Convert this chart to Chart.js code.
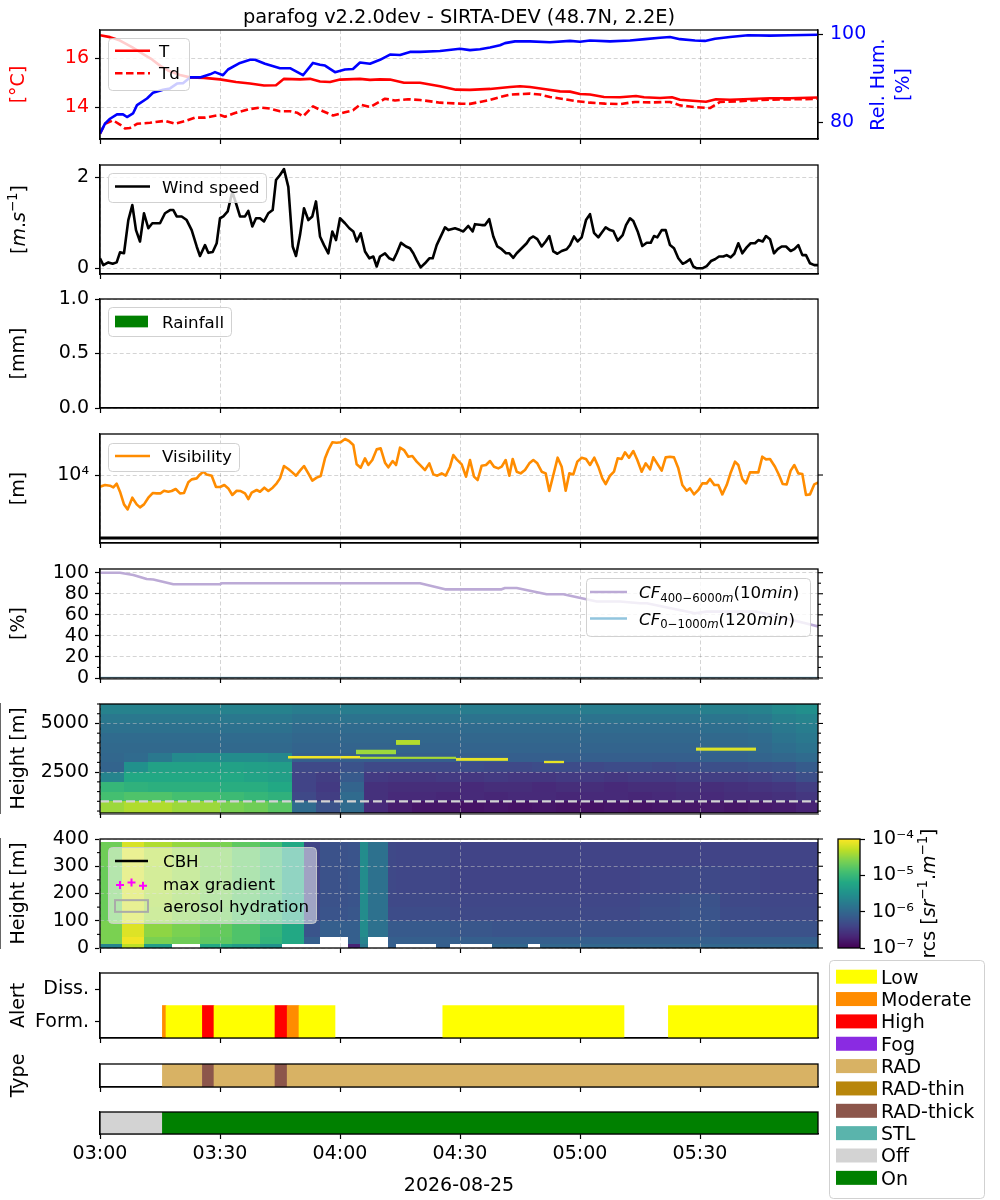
<!DOCTYPE html>
<html>
<head>
<meta charset="utf-8">
<title>parafog</title>
<script src="https://cdn.jsdelivr.net/npm/chart.js@4.4.1/dist/chart.umd.min.js"></script>
<style>
  html, body { margin: 0; padding: 0; background: #ffffff; }
  #fig { position: relative; width: 1000px; height: 1200px; overflow: hidden; background: #ffffff; }
  #fig canvas { position: absolute; left: 0; }
</style>
</head>
<body>
<div id="fig"></div>
<script>
// ======================= DATA =======================
const titleText = 'parafog v2.2.0dev - SIRTA-DEV (48.7N, 2.2E)';
const dateLabel = '2026-08-25';
const START_MIN = 180;            // 03:00 in minutes after midnight
const X_MAX = 179.5;              // minutes after 03:00
const xTickMinutes = [0, 30, 60, 90, 120, 150];

// temperature (°C), dew point (°C), relative humidity (%)
const tempTime = [0,2.5,5,8,11,13,15,17,20,22.5,26,30,34,37.5,41,44,46,50,52.5,55,57.5,60,65,67.5,70,72.5,76,80,85,89,92.5,97.5,100,102.5,105,107.5,111,115,117.5,120,122.5,126,130,134,136,140,143,145,149,151.5,154,157.5,162.5,167.5,172.5,179.5];
const tempT = [16.94,16.86,16.72,16.45,16.15,15.95,15.7,15.5,15.32,15.22,15.2,15.14,15.03,14.97,14.89,14.9,15.16,15.14,15.16,15.05,15.03,15.13,15.16,15.12,15.14,15.13,15.0,15.0,14.86,14.72,14.71,14.75,14.79,14.83,14.86,14.83,14.75,14.65,14.64,14.54,14.52,14.42,14.41,14.46,14.41,14.38,14.41,14.31,14.26,14.23,14.33,14.31,14.34,14.37,14.37,14.4];
const tdTime = [0,1.25,3.25,5,6.25,7.5,9.25,12.5,16.25,18.75,21.25,23.75,26.25,30,31.25,33.75,37.5,40,42.5,45,47.5,49.25,50.75,53.25,55.75,58.25,61.25,63.25,65,67.5,71.25,73.75,77,80,85,90,92.5,95,97.5,100,102.5,107.5,110,112.5,116.25,118.75,122.5,126.25,130,133.75,137.5,142.5,145,148.75,152.5,155,160,165,170,175,179.5];
const tdVal = [12.93,13.33,13.47,13.3,13.14,13.16,13.33,13.37,13.45,13.33,13.44,13.58,13.58,13.69,13.62,13.77,13.93,13.99,13.95,13.84,13.84,13.78,13.63,14.04,13.84,13.67,13.8,13.88,14.11,14.01,14.35,14.28,14.33,14.3,14.19,14.15,14.14,14.22,14.3,14.42,14.52,14.56,14.52,14.42,14.33,14.26,14.19,14.15,14.13,14.22,14.2,14.22,14.08,14.01,13.97,14.22,14.25,14.3,14.32,14.33,14.35];
const rhTime = [0,1.25,2.5,4.25,5.75,6.75,8.25,9.25,11.75,13.25,15.75,17.5,19.25,20.75,22.5,25,27.5,28.75,30.75,32,35,37.5,38.75,41.25,45,47.5,50.75,53.25,55,56.25,58.75,61.25,63.25,65,67.5,70,72.5,75,77.5,80,85,90,92.5,95,97.5,100,101.25,103.75,107.5,112.5,117.5,120,122.5,127.5,132.5,136.25,140,142.5,145,148.75,151.25,153.75,157.5,162,167.5,172.5,179.5];
const rhVal = [77.4,79.7,80.8,81.8,81.8,81.2,82,83.9,85.4,86.7,87.4,87.7,88.8,88.9,90.2,90.2,90.9,91.4,90.7,92,93.5,94.2,94.2,93.3,92.3,92.3,90.7,93.5,93.1,92.9,91.4,92,92.1,93.6,93.3,94.2,95.4,95.3,96,96,96.2,96.7,96.4,96.6,97,97.5,98,98.4,98.4,98.2,98.5,98.3,98.6,98.4,98.6,98.9,99.2,99.4,98.9,98.6,98.5,99,99.4,99.8,99.7,99.8,99.9];

// wind speed (m/s)
const windTime = [0,0.83,2.08,3.17,4.17,5,6,7.08,8.08,9,10,11,12.08,13.08,15,16.25,17.5,18.33,19.17,20.42,21.67,22.92,24.17,25,26.25,27.08,28.17,29.17,30,30.83,31.92,33.08,34,35,36.25,37.08,38.08,39,40,41,42.08,43.17,44,45,46,47.08,48.17,49,50,51,52.08,53.08,54,55,56,57.08,58.08,59,60,61.25,62.33,63.33,64.17,65.17,66.25,67.33,68.33,69.17,70,71.25,72.33,73.33,74.17,75.25,76.5,77.5,78.33,79.17,80.17,81.25,82.33,83.17,84.17,86.25,87.08,88.75,90,90.83,92.08,93.17,93.75,95.42,96.25,97.3,98.33,99.33,100.42,101.5,102.33,103.33,104.17,105.42,106.67,107.5,108.33,109.33,110.42,111.42,112.33,113.33,114.33,115.42,116.67,117.5,118.5,119.42,120.42,121.5,122.5,123.5,124.58,125.42,126.42,127.5,128.33,129.42,130.67,131.5,132.5,133.33,134.42,135.58,136.67,137.67,138.5,139.33,140.42,141.42,142.5,143.5,144.58,145.67,146.42,147.5,148.33,149.17,150.58,151.67,152.75,153.75,154.75,155.83,156.67,157.67,158.58,159.58,160.58,161.67,162.67,163.75,164.58,165.67,166.5,167.5,168.5,169.42,170.42,171.5,172.67,173.58,174.58,175.58,176.5,177.5,178.58,179.58];
const windVal = [0.22,0.07,0.13,0.1,0.13,0.35,0.33,1.06,1.39,0.84,0.59,1.21,0.88,0.99,0.99,1.21,1.28,1.28,1.14,1.14,1.06,0.84,0.48,0.27,0.51,0.34,0.36,0.55,1.1,1.14,1.25,1.68,1.43,1.14,1.14,1.26,0.92,1.1,1.1,1.03,1.21,1.28,1.94,2.05,2.18,1.79,0.48,0.27,0.73,1.32,1.06,1.14,1.47,0.7,0.51,0.33,0.81,0.62,1.1,0.99,0.88,0.81,0.59,0.77,0.37,0.22,0.26,0.04,0.26,0.33,0.22,0.18,0.33,0.56,0.48,0.44,0.33,0.18,0.02,0.11,0.22,0.22,0.51,0.9,0.84,0.88,0.84,0.81,0.93,0.81,0.97,0.95,0.95,1.08,0.7,0.48,0.42,0.33,0.33,0.23,0.33,0.44,0.55,0.66,0.7,0.64,0.48,0.59,0.71,0.37,0.32,0.38,0.42,0.51,0.7,0.59,0.68,1.06,1.19,0.78,0.68,0.78,0.9,0.84,0.82,0.61,0.73,0.95,1.1,1.04,0.81,0.49,0.56,0.56,0.71,0.68,0.84,0.84,0.51,0.44,0.22,0.1,0.13,0.2,0.04,0,0,0.05,0.16,0.2,0.26,0.26,0.29,0.24,0.32,0.55,0.33,0.46,0.55,0.55,0.62,0.59,0.71,0.64,0.33,0.42,0.48,0.48,0.38,0.42,0.51,0.29,0.29,0.11,0.07,0.07];

// rainfall (mm) : none recorded
const rainTime = [];
const rainVal = [];

// visibility, stored as log10(m)
const visTime = [0,1.25,2.5,3.33,4.17,5,6,6.92,8.08,9.17,10,11,12.08,13.17,14.17,15.17,16,17.08,17.92,18.92,20,21,22.08,22.92,24.17,25,25.83,26.67,27.92,29,30,31.08,32.08,33.08,34.17,35.17,36.25,37.08,37.92,39.17,40,41.08,42.08,43.17,44.17,45,46,47.08,48.08,49,50,51,52.08,53.08,54.17,55.17,56.25,57.08,58.08,59.17,60.17,61.25,62.25,63.33,64.17,65.17,66.25,67.08,68.08,69.17,70.17,71.25,72.08,73.17,74,75,76,77.08,78.08,79.17,80.17,81.25,82.33,83.33,84.33,85.42,86.42,87.5,88.33,89.17,90.42,91.5,92.5,93.5,94.42,95.42,96.5,97.5,98.5,99.58,100.42,101.42,102.33,103.17,104.17,105.17,106.25,107.33,108.33,109.33,110.42,111.42,112.33,113.33,114.42,115.42,116.42,117.33,118.33,119.33,120.42,121.5,122.5,123.58,124.58,125.58,126.42,127.5,128.5,129.42,130.42,131.25,132.25,133.33,134.33,135.42,136.42,137.5,138.33,139.42,140.42,141.42,142.5,143.5,144.58,145.58,146.67,147.5,148.5,149.58,150.58,151.67,152.5,153.58,154.58,155.58,156.67,157.67,158.75,159.58,160.58,161.5,162.5,163.5,164.58,165.58,166.5,167.5,168.75,169.75,170.67,171.67,172.67,173.58,174.58,175.58,176.5,177.5,178.58,179.58];
const visLog10 = [3.815,3.841,3.831,3.804,3.862,3.735,3.534,3.455,3.64,3.534,3.487,3.534,3.64,3.714,3.709,3.709,3.751,3.735,3.746,3.778,3.709,3.714,3.884,3.931,3.947,4.01,4.053,4.01,3.989,3.81,3.81,3.841,3.788,3.683,3.751,3.746,3.709,3.619,3.72,3.762,3.735,3.799,3.746,3.799,3.868,3.947,4.143,4.095,4.042,3.989,4.069,4.143,4.026,3.91,3.958,3.984,4.265,4.397,4.519,4.513,4.519,4.571,4.54,4.476,4.169,4.116,4.265,4.159,4.238,4.407,4.423,4.196,4.122,4.222,4.159,4.434,4.397,4.291,4.302,4.212,4.148,4.079,4.185,4.01,3.989,4.026,3.989,4.132,4.317,4.249,4.169,3.974,4.238,3.974,3.921,4.148,4.159,4.222,4.132,4.106,4.132,4.238,3.989,4.254,4.053,4.026,4.079,4.185,4.238,4.185,4.053,4.026,3.746,4.0,4.275,4.132,3.751,4.026,4.01,4.212,4.275,4.254,4.159,4.275,4.132,3.947,3.857,3.989,4.053,4.265,4.254,4.36,4.275,4.381,4.238,4.053,4.185,4.09,4.28,4.169,4.069,4.28,4.291,4.28,4.106,3.841,3.751,3.788,3.693,3.762,3.868,3.868,3.937,3.841,3.841,3.693,3.841,4.037,4.212,4.159,3.937,3.868,4.042,4.042,4.042,4.291,4.249,4.254,4.132,4.0,3.857,3.852,4.069,4.159,4.026,4.016,3.683,3.693,3.852,3.884];
const visThreshold = 1000;

// cloud fraction (%)
const cfTime = [0,5,8.33,11.67,13.33,18.33,30,30.5,80,86.25,100.4,101.25,104.17,111.67,115.83,124.17,130,135,136.67,148.75,151.67,164.17,170,179.58];
const cf400Val = [100,100,97.8,94,93.5,89,89,90,90,84.2,84.2,85.5,85.5,79.5,79.5,72.6,72.6,71,71,61.5,63,63,58,48.9];
const cf1000Time = [0, 179.58];
const cf1000Val = [0, 0];

// range-corrected signal, log10(rcs) — 400-6000 m
const rcs1TimeEdges = [0,6,12,18,24,30,36,42,48,54,60,66,72,78,84,90,96,102,108,114,120,126,132,138,144,150,156,162,168,174,180];
const rcs1HeightEdges = [400,1000,1500,2000,2500,3000,3500,4000,4500,5000,5500,6000];
const rcs1Log = [
  [-4.45,-4.36,-4.36,-4.45,-4.45,-4.6,-4.66,-4.78,-5.95,-6.25,-5.95,-6.64,-6.76,-6.82,-6.82,-6.85,-6.82,-6.85,-6.82,-6.85,-6.85,-6.82,-6.85,-6.82,-6.82,-6.79,-6.82,-6.79,-6.76,-6.7],
  [-4.9,-4.84,-4.84,-4.9,-4.9,-4.96,-5.02,-5.08,-6.34,-6.46,-5.95,-6.58,-6.64,-6.64,-6.67,-6.64,-6.67,-6.64,-6.64,-6.67,-6.64,-6.64,-6.67,-6.64,-6.61,-6.64,-6.61,-6.61,-6.58,-6.52],
  [-5.02,-5.08,-5.11,-5.11,-5.11,-5.14,-5.14,-5.2,-6.4,-6.49,-6.04,-6.58,-6.61,-6.61,-6.61,-6.64,-6.61,-6.61,-6.64,-6.61,-6.61,-6.64,-6.61,-6.61,-6.58,-6.61,-6.58,-6.55,-6.52,-6.46],
  [-5.65,-5.2,-5.2,-5.2,-5.2,-5.2,-5.26,-5.32,-6.4,-6.46,-6.16,-6.49,-6.52,-6.52,-6.49,-6.52,-6.49,-6.52,-6.52,-6.49,-6.49,-6.52,-6.49,-6.49,-6.46,-6.46,-6.46,-6.43,-6.37,-6.28],
  [-6.04,-5.5,-5.29,-5.29,-5.29,-5.29,-5.32,-5.35,-6.34,-6.34,-6.25,-6.34,-6.34,-6.34,-6.34,-6.31,-6.34,-6.34,-6.31,-6.31,-6.34,-6.31,-6.31,-6.34,-6.31,-6.28,-6.28,-6.25,-6.22,-6.13],
  [-6.01,-5.95,-5.8,-5.59,-5.56,-5.56,-5.56,-5.62,-6.1,-6.1,-6.1,-6.1,-6.1,-6.1,-6.1,-6.1,-6.1,-6.1,-6.1,-6.1,-6.1,-6.1,-6.1,-6.1,-6.1,-6.07,-6.07,-6.04,-6.01,-5.95],
  [-5.98,-5.98,-5.98,-5.98,-5.98,-5.98,-5.98,-5.98,-6.04,-6.04,-6.04,-6.04,-6.04,-6.04,-6.04,-6.04,-6.04,-6.04,-6.04,-6.04,-6.04,-6.04,-6.04,-6.04,-6.04,-6.01,-6.01,-5.98,-5.92,-5.86],
  [-5.95,-5.95,-5.95,-5.95,-5.95,-5.95,-5.95,-5.95,-6.01,-6.01,-6.01,-6.01,-6.01,-6.01,-6.01,-6.01,-6.01,-6.01,-6.01,-6.01,-6.01,-6.01,-6.01,-6.01,-6.01,-5.98,-5.98,-5.95,-5.86,-5.8],
  [-5.89,-5.89,-5.89,-5.89,-5.89,-5.89,-5.89,-5.89,-5.95,-5.95,-5.95,-5.95,-5.95,-5.95,-5.95,-5.95,-5.95,-5.95,-5.95,-5.95,-5.95,-5.95,-5.95,-5.95,-5.95,-5.92,-5.92,-5.89,-5.8,-5.74],
  [-5.8,-5.8,-5.8,-5.8,-5.8,-5.8,-5.8,-5.8,-5.86,-5.86,-5.86,-5.86,-5.86,-5.86,-5.86,-5.86,-5.86,-5.86,-5.86,-5.86,-5.86,-5.86,-5.86,-5.86,-5.86,-5.83,-5.83,-5.8,-5.71,-5.65],
  [-5.68,-5.68,-5.68,-5.68,-5.68,-5.68,-5.68,-5.68,-5.74,-5.74,-5.74,-5.74,-5.74,-5.74,-5.74,-5.74,-5.74,-5.74,-5.74,-5.74,-5.74,-5.74,-5.74,-5.74,-5.74,-5.71,-5.71,-5.68,-5.59,-5.53]
];
// thin cloud layers seen in the profile (minutes, m, log10 rcs)
const cloudStart = [47, 65, 64, 74, 89, 111, 149];
const cloudEnd   = [65, 89, 74, 80, 102, 116, 164];
const cloudBase  = [3200, 3180, 3420, 3900, 3080, 2960, 3600];
const cloudTop   = [3330, 3290, 3650, 4150, 3230, 3080, 3760];
const cloudLog   = [-4.05, -4.4, -4.45, -4.35, -4.1, -4.1, -4.15];
const mixHeight = 1000;

// range-corrected signal, log10(rcs) — 0-400 m (null = no data)
const rcs2TimeEdges = [0,5.5,11,18,25,33,40,45.5,51,55,62,65,67,72,74,84,87.5,98,107,110,120,135,145,155,165,180];
const rcs2HeightEdges = [0,15,40,100,150,200,250,300,350,390];
const rcs2Log = [
  [-5.65,-4.3,-5.35,null,-5.2,-5.35,-5.5,null,null,null,-6.7,-5.8,null,-6.1,null,-6.1,null,-6.01,null,-6.01,-6.01,-6.01,-6.01,-6.01,-6.01],
  [-4.6,-4.06,-4.6,-4.66,-4.75,-4.84,-5.05,-5.2,-6.1,null,-6.1,-5.65,null,-6.1,-6.1,-6.1,-6.1,-6.1,-6.1,-6.1,-6.1,-6.1,-6.1,-6.1,-6.1],
  [-4.6,-4.15,-4.51,-4.6,-4.72,-4.84,-5.02,-5.2,-6.22,-6.1,-6.1,-5.56,-5.89,-6.16,-6.16,-6.16,-6.19,-6.22,-6.22,-6.25,-6.25,-6.22,-6.19,-6.25,-6.25],
  [-4.69,-4.21,-4.45,-4.54,-4.66,-4.81,-4.96,-5.2,-6.34,-6.22,-6.19,-5.56,-5.89,-6.31,-6.31,-6.31,-6.34,-6.34,-6.34,-6.34,-6.34,-6.28,-6.22,-6.31,-6.34],
  [-4.69,-4.21,-4.42,-4.51,-4.63,-4.78,-4.93,-5.2,-6.37,-6.25,-6.22,-5.56,-5.89,-6.34,-6.34,-6.34,-6.37,-6.37,-6.37,-6.37,-6.37,-6.31,-6.25,-6.34,-6.37],
  [-4.69,-4.21,-4.39,-4.48,-4.6,-4.75,-4.9,-5.2,-6.4,-6.25,-6.22,-5.56,-5.89,-6.34,-6.37,-6.37,-6.4,-6.4,-6.4,-6.4,-6.4,-6.37,-6.34,-6.37,-6.4],
  [-4.69,-4.21,-4.39,-4.48,-4.6,-4.75,-4.9,-5.2,-6.4,-6.25,-6.22,-5.56,-5.89,-6.34,-6.37,-6.37,-6.4,-6.4,-6.4,-6.4,-6.4,-6.37,-6.34,-6.37,-6.4],
  [-4.66,-4.18,-4.36,-4.48,-4.6,-4.75,-4.9,-5.2,-6.4,-6.25,-6.22,-5.56,-5.89,-6.34,-6.37,-6.37,-6.4,-6.4,-6.4,-6.4,-6.4,-6.4,-6.4,-6.4,-6.4],
  [-4.66,-4.18,-4.36,-4.48,-4.6,-4.75,-4.9,-5.2,-6.4,-6.25,-6.22,-5.56,-5.89,-6.34,-6.37,-6.37,-6.4,-6.4,-6.4,-6.4,-6.4,-6.4,-6.4,-6.4,-6.4]
];

// alert, fog type and processing state segments (minutes after 03:00)
const alertRows = ['Diss.', 'Form.'];
const alertStart = [15.6, 16.5, 25.6, 28.5, 43.75, 46.8, 49.75, 85.7, 142.1];
const alertEnd   = [16.5, 25.6, 28.5, 43.75, 46.8, 49.75, 58.75, 131, 179.5];
const alertLevel = ['Moderate','Low','High','Low','High','Moderate','Low','Low','Low'];
const typeStart = [15.6, 25.6, 28.5, 43.75, 46.8];
const typeEnd   = [25.6, 28.5, 43.75, 46.8, 179.5];
const typeName  = ['RAD','RAD-thick','RAD','RAD-thick','RAD'];
const stateStart = [0, 15.6];
const stateEnd   = [15.6, 179.5];
const stateName  = ['Off', 'On'];

const alertLevels = ['Low', 'Moderate', 'High'];
const typeNames = ['Fog', 'RAD', 'RAD-thin', 'RAD-thick', 'STL'];
const stateNames = ['Off', 'On'];

// axis tick values
const tempTicks = [14, 16], rhTicks = [80, 100], windTicks = [0, 2], rainTicks = [0, 0.5, 1];
const visTicks = [10000], cfTicks = [0, 20, 40, 60, 80, 100], cfMinor = [10, 30, 50, 70, 90];
const h1Ticks = [2500, 5000], h1Minor = [500, 1000, 1500, 2000, 3000, 3500, 4000, 4500, 5500, 6000];
const h2Ticks = [0, 100, 200, 300, 400], h2Minor = [50, 150, 250, 350];
const cbTicks = [1e-7, 1e-6, 1e-5, 1e-4];

// ======================= STYLE =======================
const FONT = "'DejaVu Sans', sans-serif";
const TICK_FONT = {family: FONT, size: 19};
const GRID_COLOR = 'rgba(0,0,0,0.17)';
const HEAT_GRID = 'rgba(200,200,200,0.5)';
const LEVEL_COLORS = {Low: '#ffff00', Moderate: '#ff8c00', High: '#ff0000'};
const TYPE_COLORS = {Fog: '#8a2be2', RAD: '#d8b264', 'RAD-thin': '#b8860b', 'RAD-thick': '#8c564b', STL: '#5ab4ac'};
const STATE_COLORS = {Off: '#d3d3d3', On: '#008000'};
const CB_MIN_LOG = -7, CB_MAX_LOG = -4;
const VIRIDIS = ['#440154','#482475','#414487','#355f8d','#2a788e','#21918c','#22a884','#44bf70','#7ad151','#bddf26','#fde725'];
const VIR = VIRIDIS.map(h => [parseInt(h.slice(1,3),16), parseInt(h.slice(3,5),16), parseInt(h.slice(5,7),16)]);
function viridis(t) {
  t = Math.max(0, Math.min(1, t));
  const p = t * 10, i = Math.min(9, Math.floor(p)), f = p - i, a = VIR[i], b = VIR[i + 1];
  return 'rgb(' + Math.round(a[0] + (b[0]-a[0])*f) + ',' + Math.round(a[1] + (b[1]-a[1])*f) + ',' + Math.round(a[2] + (b[2]-a[2])*f) + ')';
}
const rcsColor = lg => viridis((lg - CB_MIN_LOG) / (CB_MAX_LOG - CB_MIN_LOG));
const SUP = {'-': '⁻', '0': '⁰', '1': '¹', '2': '²', '3': '³', '4': '⁴', '5': '⁵', '6': '⁶', '7': '⁷', '8': '⁸', '9': '⁹'};
const pow10Label = v => '10' + String(Math.round(Math.log10(v))).split('').map(c => SUP[c]).join('');

function fmtTime(v) {
  const tot = Math.round(START_MIN + v);
  return String(Math.floor(tot / 60)).padStart(2, '0') + ':' + String(tot % 60).padStart(2, '0');
}
const pts = (t, v) => t.map((x, i) => ({x: x, y: v[i]}));
const segData = (s, e, row) => s.map((x, i) => ({x: [x, e[i]], y: row}));

// ======================= DRAW HELPERS =======================
function drawRich(ctx, segs, x, y, size, color, align) {
  const parts = segs.map(s => {
    const sz = (s.sub || s.sup) ? size * 0.7 : size;
    const font = (s.i ? 'italic ' : '') + sz.toFixed(2) + 'px ' + FONT;
    ctx.font = font;
    return {t: s.t, font: font, w: ctx.measureText(s.t).width, dy: s.sub ? size * 0.22 : (s.sup ? -size * 0.42 : 0)};
  });
  const W = parts.reduce((a, p) => a + p.w, 0);
  let cx = align === 'center' ? x - W / 2 : (align === 'right' ? x - W : x);
  ctx.fillStyle = color; ctx.textAlign = 'left'; ctx.textBaseline = 'alphabetic';
  parts.forEach(p => { ctx.font = p.font; ctx.fillText(p.t, cx, y + p.dy); cx += p.w; });
}
function roundRect(ctx, x, y, w, h, r) {
  ctx.beginPath();
  ctx.moveTo(x + r, y); ctx.lineTo(x + w - r, y); ctx.quadraticCurveTo(x + w, y, x + w, y + r);
  ctx.lineTo(x + w, y + h - r); ctx.quadraticCurveTo(x + w, y + h, x + w - r, y + h);
  ctx.lineTo(x + r, y + h); ctx.quadraticCurveTo(x, y + h, x, y + h - r);
  ctx.lineTo(x, y + r); ctx.quadraticCurveTo(x, y, x + r, y); ctx.closePath();
}
function drawLegend(ctx, L, items, top) {
  const [x0, y0, x1, y1] = L.box;
  ctx.save();
  roundRect(ctx, x0 + 0.5, y0 - top + 0.5, x1 - x0, y1 - y0, 4);
  ctx.fillStyle = 'rgba(255,255,255,' + L.alpha + ')'; ctx.fill();
  ctx.strokeStyle = 'rgba(204,204,204,0.9)'; ctx.lineWidth = 1; ctx.stroke();
  items.forEach((it, i) => {
    const y = L.y0 + i * L.dy - top;
    const sx0 = L.sx[0], sx1 = L.sx[1];
    ctx.save();
    if (it.kind === 'line') {
      ctx.strokeStyle = it.color; ctx.lineWidth = it.width || 2.5; ctx.setLineDash(it.dash || []);
      ctx.beginPath(); ctx.moveTo(sx0, y); ctx.lineTo(sx1, y); ctx.stroke();
    } else if (it.kind === 'patch') {
      ctx.fillStyle = it.color; ctx.fillRect(sx0, y - L.ph / 2, sx1 - sx0, L.ph);
    } else if (it.kind === 'rect') {
      ctx.strokeStyle = it.color; ctx.lineWidth = 2; ctx.strokeRect(sx0, y - L.ph / 2, sx1 - sx0, L.ph);
    } else if (it.kind === 'plus') {
      ctx.strokeStyle = it.color; ctx.lineWidth = 2;
      const px = [sx0 + 5, (sx0 + sx1) / 2, sx1 - 5], dy = [1.5, -1, 2.2];
      px.forEach((x, k) => {
        ctx.beginPath(); ctx.moveTo(x - 4, y + dy[k]); ctx.lineTo(x + 4, y + dy[k]);
        ctx.moveTo(x, y + dy[k] - 4); ctx.lineTo(x, y + dy[k] + 4); ctx.stroke();
      });
    }
    ctx.restore();
    drawRich(ctx, it.segs, L.tx, y + 0.36 * L.size, L.size, '#000', 'left');
  });
  ctx.restore();
}

const decoPlugin = {
  id: 'deco',
  beforeDatasetsDraw(chart) {
    const d = chart.canvas.$deco; if (!d || !d.heat) return;
    const ctx = chart.ctx, ca = chart.chartArea, xs = chart.scales.x, ys = chart.scales.y, h = d.heat;
    ctx.save();
    ctx.beginPath(); ctx.rect(ca.left, ca.top, ca.right - ca.left, ca.bottom - ca.top); ctx.clip();
    const X = h.tEdges.map(v => Math.round(xs.getPixelForValue(v)));
    const Y = h.hEdges.map(v => Math.round(ys.getPixelForValue(v)));
    h.rows.forEach((row, r) => row.forEach((v, c) => {
      if (v === null) return;
      ctx.fillStyle = rcsColor(v);
      ctx.fillRect(X[c], Y[r + 1], X[c + 1] - X[c], Y[r] - Y[r + 1]);
    }));
    if (h.clouds) {
      const cl = h.clouds;
      cl.start.forEach((s, i) => {
        const xa = xs.getPixelForValue(s), xb = xs.getPixelForValue(cl.end[i]);
        const ya = ys.getPixelForValue(cl.top[i]), yb = ys.getPixelForValue(cl.base[i]);
        ctx.fillStyle = rcsColor(cl.val[i]);
        ctx.fillRect(xa, ya, xb - xa, Math.max(2, yb - ya));
      });
    }
    ctx.restore();
  },
  afterDraw(chart) {
    const d = chart.canvas.$deco; if (!d) return;
    const ctx = chart.ctx, ca = chart.chartArea, top = d.top;
    if (d.cbar) {
      const ys = chart.scales.y;
      for (let p = Math.floor(ca.top); p < Math.ceil(ca.bottom); p++) {
        const v = ys.getValueForPixel(p + 0.5);
        ctx.fillStyle = rcsColor(Math.log10(v));
        ctx.fillRect(ca.left, p, ca.right - ca.left, 1);
      }
    }
    if (d.frame) {
      ctx.save(); ctx.strokeStyle = '#000'; ctx.lineWidth = 1.3;
      ctx.strokeRect(ca.left, ca.top, ca.right - ca.left, ca.bottom - ca.top); ctx.restore();
    }
    (d.ticks || []).forEach(t => {
      const sc = chart.scales[t.axis];
      const x0 = t.side === 'right' ? ca.right : ca.left, dir = t.side === 'right' ? 1 : -1;
      ctx.save(); ctx.strokeStyle = '#000'; ctx.lineWidth = 1.1;
      t.values.forEach(v => {
        const y = sc.getPixelForValue(v);
        ctx.beginPath(); ctx.moveTo(x0, y); ctx.lineTo(x0 + dir * t.len, y); ctx.stroke();
      });
      ctx.restore();
    });
    (d.labels || []).forEach(L => {
      ctx.save();
      if (L.rot) {
        ctx.translate(L.x, L.y - top); ctx.rotate(-Math.PI / 2);
        drawRich(ctx, L.segs, 0, 0.35 * L.size, L.size, L.color || '#000', 'center');
      } else {
        drawRich(ctx, L.segs, L.x, L.y - top + 0.36 * L.size, L.size, L.color || '#000', 'center');
      }
      ctx.restore();
    });
    if (d.legend) {
      const items = d.legend.items || chart.data.datasets.filter(ds => ds.legendKind).map(ds => ({
        kind: ds.legendKind, color: ds.legendColor || ds.borderColor || ds.backgroundColor,
        dash: ds.borderDash, width: ds.borderWidth, segs: ds.richLabel || [{t: ds.label}]
      }));
      drawLegend(ctx, d.legend, items, top);
    }
  }
};
Chart.register(decoPlugin);

// ======================= AXES / PANELS =======================
function xAxis(o) {
  o = o || {};
  return {
    type: 'linear', min: 0, max: X_MAX, bounds: 'data', offset: false,
    afterFit: s => { s.height = o.h || 25; },
    afterBuildTicks: s => { s.ticks = xTickMinutes.map(v => ({value: v})); },
    ticks: {display: !!o.labels, font: TICK_FONT, color: '#000', padding: 4, maxRotation: 0, autoSkip: false, callback: v => fmtTime(v)},
    grid: {display: true, offset: false, drawOnChartArea: o.grid !== false, color: o.gridColor || GRID_COLOR, lineWidth: 1, drawTicks: true, tickLength: 5, tickColor: '#000', tickWidth: 1.2, z: o.gridZ || 0},
    border: {display: true, color: '#000', width: 1.2, dash: [4, 2.5]},
    title: o.title ? {display: true, text: o.title, font: {family: FONT, size: 19}, color: '#000', padding: {top: 0, bottom: 3}} : {display: false}
  };
}
function yAxis(o) {
  return {
    type: o.type || 'linear', position: o.position || 'left', min: o.min, max: o.max, bounds: 'data',
    afterFit: s => { s.width = 100; },
    afterBuildTicks: s => { s.ticks = o.ticks.map(v => ({value: v})); },
    ticks: {display: true, font: TICK_FONT, color: o.color || '#000', padding: o.position === 'right' ? 7 : 6, autoSkip: false, callback: o.fmt || (v => String(v))},
    grid: {display: true, drawOnChartArea: o.grid !== false, color: o.gridColor || GRID_COLOR, lineWidth: 1, drawTicks: true, tickLength: 5, tickColor: '#000', tickWidth: 1.2, z: o.gridZ || 0},
    border: {display: true, color: '#000', width: 1.2, dash: [4, 2.5]}
  };
}
function catAxis(labels, show) {
  return {
    type: 'category', labels: labels, offset: true,
    afterFit: s => { s.width = 100; },
    ticks: {display: show, font: TICK_FONT, color: '#000', padding: 6},
    grid: {display: show, drawOnChartArea: false, drawTicks: true, tickLength: 5, tickColor: '#000', tickWidth: 1.2, offset: false},
    border: {display: true, color: '#000', width: 1.2}
  };
}
const FIG = document.getElementById('fig');
function mk(top, bottom, cfg, o, deco) {
  o = o || {};
  const mt = o.mt != null ? o.mt : 25, mb = o.mb != null ? o.mb : 25;
  const ctop = top - mt, h = bottom - top + mt + mb;
  const cv = document.createElement('canvas');
  cv.width = 1000; cv.height = h;
  cv.style.width = '1000px'; cv.style.height = h + 'px'; cv.style.top = ctop + 'px';
  FIG.appendChild(cv);
  cv.$deco = Object.assign({top: ctop, frame: true}, deco || {});
  const opt = cfg.options;
  opt.responsive = false; opt.animation = false; opt.events = [];
  opt.layout = {padding: {top: mt, left: o.pl || 0, right: o.pr != null ? o.pr : 182, bottom: o.pb || 0}};
  opt.plugins = {legend: {display: false}, tooltip: {enabled: false}, title: {display: false}};
  opt.elements = {point: {radius: 0}, line: {tension: 0, borderJoinStyle: 'round', borderCapStyle: 'butt'}};
  return new Chart(cv, cfg);
}
const lbl = (text, x, y, color) => ({segs: [{t: text}], x: x, y: y, size: 19, color: color || '#000', rot: true});
const line = (label, t, v, color, extra) => Object.assign({label: label, data: pts(t, v), borderColor: color, borderWidth: 2.6, pointRadius: 0, fill: false}, extra || {});

// 1. Temperature / humidity
mk(30, 139, {
  type: 'line',
  data: {datasets: [
    line('Rel. Hum.', rhTime, rhVal, '#0000ff', {yAxisID: 'y1', order: 0}),
    line('T', tempTime, tempT, '#ff0000', {yAxisID: 'y', order: 1, legendKind: 'line'}),
    line('Td', tdTime, tdVal, '#ff0000', {yAxisID: 'y', order: 2, borderDash: [7.5, 3.5], legendKind: 'line'})
  ]},
  options: {scales: {
    x: xAxis(),
    y: yAxis({min: 12.71, max: 17.15, ticks: tempTicks, color: '#ff0000'}),
    y1: yAxis({position: 'right', min: 76.2, max: 100.98, ticks: rhTicks, color: '#0000ff', grid: false})
  }}
}, {pr: 82}, {
  labels: [
    {segs: [{t: titleText}], x: 459, y: 16.5, size: 19.4, color: '#000', rot: false},
    lbl('[°C]', 17.5, 84.5, '#ff0000'),
    lbl('Rel. Hum.', 877.5, 84.5, '#0000ff'),
    lbl('[%]', 902, 84.5, '#0000ff')
  ],
  legend: {box: [108, 38, 189, 90], y0: 50.7, dy: 22.5, sx: [115, 150], tx: 159, size: 16.7, alpha: 0.8, ph: 11.7}
});

// 2. Wind speed
mk(165, 274, {
  type: 'line',
  data: {datasets: [line('Wind speed', windTime, windVal, '#000000', {legendKind: 'line'})]},
  options: {scales: {x: xAxis(), y: yAxis({min: -0.125, max: 2.27, ticks: windTicks})}}
}, {}, {
  labels: [{segs: [{t: '['}, {t: 'm', i: 1}, {t: '.'}, {t: 's', i: 1}, {t: '−1', sup: 1}, {t: ']'}], x: 18, y: 219.5, size: 19, color: '#000', rot: true}],
  legend: {box: [108, 173, 266, 202], y0: 186.5, dy: 22.5, sx: [115, 150], tx: 162, size: 16.7, alpha: 0.8, ph: 11.7}
});

// 3. Rainfall
mk(299, 408, {
  type: 'bar',
  data: {datasets: [{label: 'Rainfall', data: pts(rainTime, rainVal), backgroundColor: '#008000', legendKind: 'patch'}]},
  options: {scales: {x: xAxis(), y: yAxis({min: 0, max: 1, ticks: rainTicks, fmt: v => v.toFixed(1)})}}
}, {}, {
  labels: [lbl('[mm]', 17.5, 353.5)],
  legend: {box: [108, 307, 231, 336], y0: 321.5, dy: 22.5, sx: [115, 148], tx: 162, size: 16.7, alpha: 0.8, ph: 11.7}
});

// 4. Visibility (log axis)
mk(434, 543, {
  type: 'line',
  data: {datasets: [
    line('Visibility', visTime, visLog10.map(e => Math.pow(10, e)), '#ff8c00', {legendKind: 'line'}),
    line('threshold', [0, X_MAX], [visThreshold, visThreshold], '#000000', {borderWidth: 3})
  ]},
  options: {scales: {x: xAxis(), y: yAxis({type: 'logarithmic', min: 834, max: 44770, ticks: visTicks, fmt: v => pow10Label(v)})}}
}, {}, {
  labels: [lbl('[m]', 17.5, 488.5)],
  ticks: [{axis: 'y', side: 'right', values: visTicks, len: 5}],
  legend: {box: [108, 443, 239, 471], y0: 456, dy: 22.5, sx: [115, 150], tx: 162, size: 16.7, alpha: 0.8, ph: 11.7}
});

// 5. Cloud fraction
mk(569, 678, {
  type: 'line',
  data: {datasets: [
    line('CF 0-1000m (120min)', cf1000Time, cf1000Val, '#92c5de', {order: 1}),
    line('CF 400-6000m (10min)', cfTime, cf400Val, '#bcaad6', {order: 0})
  ]},
  options: {scales: {x: xAxis(), y: yAxis({min: 0, max: 103.5, ticks: cfTicks})}}
}, {}, {
  labels: [lbl('[%]', 17.5, 623.5)],
  ticks: [
    {axis: 'y', side: 'left', values: cfMinor, len: 3},
    {axis: 'y', side: 'right', values: cfTicks, len: 5},
    {axis: 'y', side: 'right', values: cfMinor, len: 3}
  ],
  legend: {box: [586, 578, 810, 636], y0: 592, dy: 26.5, sx: [590, 627], tx: 639, size: 16.7, alpha: 0.8, ph: 11.7,
    items: [
      {kind: 'line', color: '#bcaad6', width: 2.6, segs: [{t: 'CF', i: 1}, {t: '400−6000', sub: 1}, {t: 'm', sub: 1, i: 1}, {t: '(10'}, {t: 'min', i: 1}, {t: ')'}]},
      {kind: 'line', color: '#92c5de', width: 2.6, segs: [{t: 'CF', i: 1}, {t: '0−1000', sub: 1}, {t: 'm', sub: 1, i: 1}, {t: '(120'}, {t: 'min', i: 1}, {t: ')'}]}
    ]}
});

// 6. Backscatter 400-6000 m
mk(704, 813, {
  type: 'line',
  data: {datasets: [line('mixing height', [0, X_MAX], [mixHeight, mixHeight], '#d3d3d3', {borderWidth: 2.2, borderDash: [9, 4]})]},
  options: {scales: {
    x: xAxis({gridZ: 1, gridColor: HEAT_GRID}),
    y: yAxis({min: 400, max: 6000, ticks: h1Ticks, gridZ: 1, gridColor: HEAT_GRID})
  }}
}, {}, {
  heat: {tEdges: rcs1TimeEdges, hEdges: rcs1HeightEdges, rows: rcs1Log,
         clouds: {start: cloudStart, end: cloudEnd, base: cloudBase, top: cloudTop, val: cloudLog}},
  labels: [lbl('Height [m]', 17.5, 758.5)],
  ticks: [
    {axis: 'y', side: 'left', values: h1Minor, len: 3},
    {axis: 'y', side: 'right', values: h1Ticks, len: 5},
    {axis: 'y', side: 'right', values: h1Minor, len: 3}
  ]
});

// 7. Backscatter 0-400 m
mk(839, 948, {
  type: 'line',
  data: {datasets: [
    {label: 'CBH', data: [], borderColor: '#000000', borderWidth: 2.6, legendKind: 'line'},
    {label: 'max gradient', data: [], borderColor: '#ff00ff', legendKind: 'plus'},
    {label: 'aerosol hydration', data: [], borderColor: '#aaaaaa', legendKind: 'rect'}
  ]},
  options: {scales: {
    x: xAxis({gridZ: 1, gridColor: HEAT_GRID}),
    y: yAxis({min: 0, max: 400, ticks: h2Ticks, gridZ: 1, gridColor: HEAT_GRID})
  }}
}, {}, {
  heat: {tEdges: rcs2TimeEdges, hEdges: rcs2HeightEdges, rows: rcs2Log},
  labels: [lbl('Height [m]', 17.5, 893.5)],
  ticks: [
    {axis: 'y', side: 'left', values: h2Minor, len: 3},
    {axis: 'y', side: 'right', values: h2Ticks, len: 5},
    {axis: 'y', side: 'right', values: h2Minor, len: 3}
  ],
  legend: {box: [108, 847, 316, 923], y0: 861, dy: 22.5, sx: [115, 148], tx: 163, size: 16.7, alpha: 0.5, ph: 11.7}
});

// 8. Colorbar
mk(839, 948, {
  type: 'line',
  data: {datasets: []},
  options: {scales: {
    x: {type: 'linear', display: false, min: 0, max: 1},
    y: {type: 'logarithmic', position: 'right', min: 1e-7, max: 1e-4, bounds: 'data',
        afterFit: s => { s.width = 100; },
        afterBuildTicks: s => { s.ticks = cbTicks.map(v => ({value: v})); },
        ticks: {font: TICK_FONT, color: '#000', padding: 7, autoSkip: false, callback: v => pow10Label(v)},
        grid: {display: true, drawOnChartArea: false, drawTicks: true, tickLength: 5, tickColor: '#000', tickWidth: 1.2},
        border: {display: false}}
  }}
}, {pl: 838, pr: 40, pb: 25}, {
  cbar: true,
  labels: [{segs: [{t: 'rcs ['}, {t: 'sr', i: 1}, {t: '−1', sup: 1}, {t: '.'}, {t: 'm', i: 1}, {t: '−1', sup: 1}, {t: ']'}], x: 928, y: 893.5, size: 19, color: '#000', rot: true}]
});

// 9. Alert
mk(973, 1038, {
  type: 'bar',
  data: {datasets: [{data: segData(alertStart, alertEnd, 'Form.'), backgroundColor: alertLevel.map(l => LEVEL_COLORS[l]), borderWidth: 0, categoryPercentage: 1, barPercentage: 1}]},
  options: {indexAxis: 'y', scales: {x: xAxis({grid: false}), y: catAxis(alertRows, true)}}
}, {}, {labels: [lbl('Alert', 17.5, 1005.5)]});

// 10. Fog type
mk(1064, 1087, {
  type: 'bar',
  data: {datasets: [{data: segData(typeStart, typeEnd, 'type'), backgroundColor: typeName.map(n => TYPE_COLORS[n]), borderWidth: 0, categoryPercentage: 1, barPercentage: 1}]},
  options: {indexAxis: 'y', scales: {x: xAxis({grid: false}), y: catAxis(['type'], false)}}
}, {}, {labels: [lbl('Type', 17.5, 1075.5)]});

// 11. Processing state + x labels + category legend
mk(1112, 1134, {
  type: 'bar',
  data: {datasets: [{data: segData(stateStart, stateEnd, 'state'), backgroundColor: stateName.map(n => STATE_COLORS[n]), borderWidth: 0, categoryPercentage: 1, barPercentage: 1}]},
  options: {indexAxis: 'y', scales: {x: xAxis({grid: false, labels: true, h: 66, title: dateLabel}), y: catAxis(['state'], false)}}
}, {mt: 162, mb: 66}, {
  legend: {box: [829, 960, 984, 1198], y0: 976.7, dy: 22.35, sx: [836, 877], tx: 881, size: 19, alpha: 0.8, ph: 14,
    items: alertLevels.map(n => ({kind: 'patch', color: LEVEL_COLORS[n], segs: [{t: n}]}))
      .concat(typeNames.map(n => ({kind: 'patch', color: TYPE_COLORS[n], segs: [{t: n}]})))
      .concat(stateNames.map(n => ({kind: 'patch', color: STATE_COLORS[n], segs: [{t: n}]})))}
});
</script>
</body>
</html>
